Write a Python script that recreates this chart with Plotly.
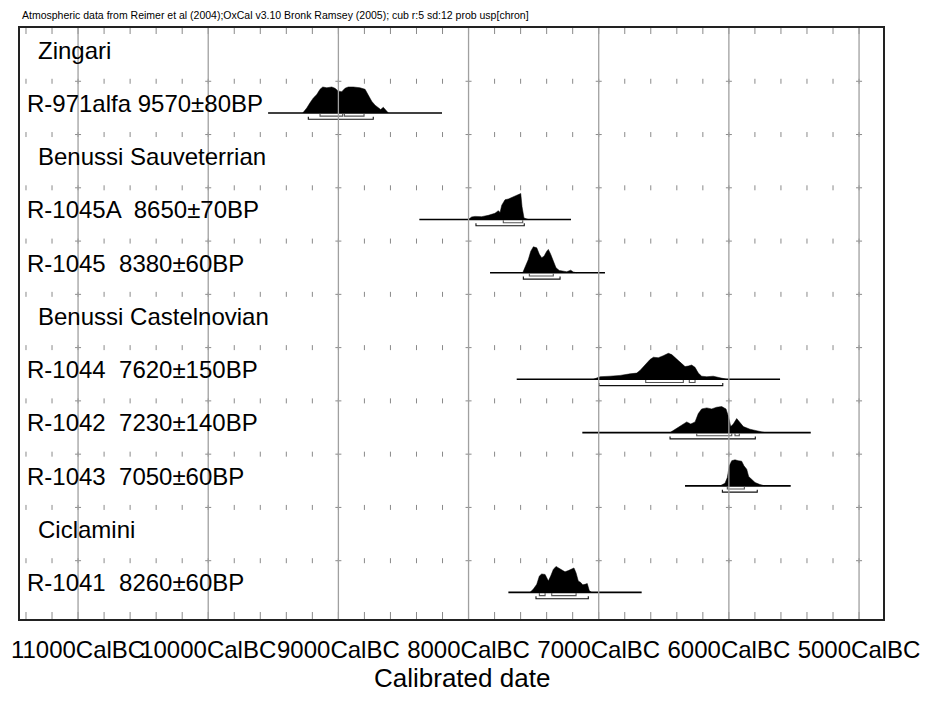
import plotly.graph_objects as go

# ---------------- data (years BC) ----------------
header = ("Atmospheric data from Reimer et al (2004);OxCal v3.10 Bronk Ramsey (2005); "
          "cub r:5 sd:12 prob usp[chron]")
axis_title = "Calibrated date"

major_ticks = [11000, 10000, 9000, 8000, 7000, 6000, 5000]
major_labels = ["11000CalBC", "10000CalBC", "9000CalBC", "8000CalBC",
                "7000CalBC", "6000CalBC", "5000CalBC"]
minor_ticks = [11400, 11200, 11000, 10800, 10600, 10400, 10200, 10000, 9800, 9600,
               9400, 9200, 9000, 8800, 8600, 8400, 8200, 8000, 7800, 7600, 7400,
               7200, 7000, 6800, 6600, 6400, 6200, 6000, 5800, 5600, 5400, 5200, 5000]

row_labels = ["Zingari", "R-971alfa 9570±80BP", "Benussi Sauveterrian",
              "R-1045A \u00a08650±70BP", "R-1045 \u00a08380±60BP", "Benussi Castelnovian",
              "R-1044 \u00a07620±150BP", "R-1042 \u00a07230±140BP", "R-1043 \u00a07050±60BP",
              "Ciclamini", "R-1041 \u00a08260±60BP"]
row_is_group = [True, False, True, False, False, True, False, False, False, True, False]

# R-971alfa (row 1)
r971_years = [9274, 9243, 9218, 9192, 9166, 9141, 9120, 9089, 9051, 9026, 9000, 8974,
              8949, 8924, 8885, 8834, 8795, 8770, 8744, 8718, 8693, 8675, 8655, 8634, 8616]
r971_prob = [0, 0.19, 0.39, 0.58, 0.71, 0.91, 1.0, 0.97, 1.0, 0.95, 0.84, 0.82,
             0.95, 1.0, 1.0, 0.97, 0.91, 0.71, 0.45, 0.30, 0.19, 0.13, 0.22, 0.09, 0]
r971_span = [9540, 8204]
r971_r68 = [[9141, 8967], [8954, 8803]]
r971_r95 = [[9231, 8732]]

# R-1045A (row 3)
r1045a_years = [8002, 7976, 7950, 7899, 7848, 7797, 7771, 7758, 7745, 7720, 7694, 7668,
                7643, 7618, 7599, 7589, 7574, 7541]
r1045a_prob = [0, 0.10, 0.12, 0.11, 0.16, 0.24, 0.34, 0.27, 0.55, 0.76, 0.79, 0.85,
               0.91, 0.95, 1.0, 0.49, 0.06, 0]
r1045a_span = [8378, 7213]
r1045a_r68 = [[7733, 7584]]
r1045a_r95 = [[7943, 7572]]

# R-1045 (row 4)
r1045_years = [7584, 7566, 7541, 7522, 7502, 7476, 7456, 7438, 7420, 7399, 7387, 7369,
               7349, 7328, 7303, 7272, 7246, 7215, 7195, 7169]
r1045_prob = [0, 0.19, 0.51, 0.83, 1.0, 0.96, 0.71, 0.58, 0.64, 0.83, 0.90, 0.71,
              0.45, 0.19, 0.09, 0.06, 0.04, 0.10, 0.03, 0]
r1045_span = [7835, 6952]
r1045_r68 = [[7533, 7349]]
r1045_r95 = [[7579, 7297]]

# R-1044 (row 6)
r1044_years = [7041, 6990, 6913, 6836, 6760, 6708, 6683, 6644, 6606, 6580, 6542, 6504,
               6465, 6439, 6401, 6362, 6337, 6312, 6286, 6260, 6235, 6209, 6170, 6120,
               6068, 6017]
r1044_prob = [0.0, 0.10, 0.12, 0.15, 0.21, 0.24, 0.34, 0.55, 0.76, 0.85, 0.83, 0.91,
              1.0, 0.95, 0.79, 0.61, 0.49, 0.51, 0.55, 0.46, 0.24, 0.12, 0.10, 0.12,
              0.05, 0]
r1044_span = [7630, 5607]
r1044_r68 = [[6639, 6350], [6304, 6260]]
r1044_r95 = [[6998, 6047]]

# R-1042 (row 7)
r1042_years = [6452, 6401, 6362, 6324, 6293, 6260, 6235, 6209, 6170, 6132, 6094, 6055,
               6022, 6001, 5986, 5966, 5940, 5920, 5889, 5838, 5786, 5723]
r1042_prob = [0.0, 0.16, 0.29, 0.41, 0.33, 0.41, 0.73, 0.91, 0.95, 0.91, 0.975, 1.0,
              0.91, 0.58, 0.23, 0.33, 0.54, 0.41, 0.23, 0.13, 0.08, 0]
r1042_span = [7126, 5371]
r1042_r68 = [[6247, 5978], [5953, 5920]]
r1042_r95 = [[6452, 5797]]

# R-1043 (row 8)
r1043_years = [6068, 6030, 6012, 5997, 5978, 5953, 5928, 5902, 5884, 5863, 5848, 5825,
               5799, 5761, 5723]
r1043_prob = [0, 0.10, 0.32, 0.77, 0.97, 1.0, 0.97, 0.95, 0.77, 0.64, 0.36, 0.26,
              0.13, 0.05, 0]
r1043_span = [6337, 5525]
r1043_r68 = [[6012, 5881]]
r1043_r95 = [[6050, 5782]]

# R-1041 (row 10)
r1041_years = [7528, 7502, 7476, 7456, 7438, 7412, 7399, 7387, 7369, 7349, 7328, 7310,
               7284, 7259, 7233, 7207, 7190, 7174, 7157, 7138, 7123, 7105, 7088, 7072,
               7054]
r1041_prob = [0, 0.13, 0.31, 0.63, 0.71, 0.69, 0.56, 0.44, 0.63, 0.88, 1.0, 0.94,
              0.84, 0.79, 0.84, 0.91, 0.94, 0.75, 0.44, 0.38, 0.29, 0.31, 0.34, 0.06, 0]
r1041_span = [7694, 6670]
r1041_r68 = [[7456, 7412], [7361, 7174]]
r1041_r95 = [[7482, 7080]]

samples = [
    (1, r971_years, r971_prob, r971_span, r971_r68, r971_r95),
    (3, r1045a_years, r1045a_prob, r1045a_span, r1045a_r68, r1045a_r95),
    (4, r1045_years, r1045_prob, r1045_span, r1045_r68, r1045_r95),
    (6, r1044_years, r1044_prob, r1044_span, r1044_r68, r1044_r95),
    (7, r1042_years, r1042_prob, r1042_span, r1042_r68, r1042_r95),
    (8, r1043_years, r1043_prob, r1043_span, r1043_r68, r1043_r95),
    (10, r1041_years, r1041_prob, r1041_span, r1041_r68, r1041_r95),
]

# ---------------- geometry / style ----------------
ROW_PX = 53.27
PLOT_H = 591
PX = 1.0 / ROW_PX
Y_MAX = PLOT_H / ROW_PX
X_LEFT, X_RIGHT = 11446, 4816
YR_PER_PX = (X_LEFT - X_RIGHT) / 863.0
BASE_OFF = 31.7 * PX
PEAK_H = 26 * PX
FONT = "Liberation Sans, Arial, sans-serif"


def bx(year):
    return -year


fig = go.Figure()

# distributions
for row, yrs, prob, span, r68, r95 in samples:
    base = row + BASE_OFF
    xs = [bx(yrs[0])] + [bx(v) for v in yrs] + [bx(yrs[-1])]
    ys = [base] + [base - p * PEAK_H for p in prob] + [base]
    fig.add_trace(go.Scatter(x=xs, y=ys, mode="lines", fill="toself",
                             fillcolor="black", line=dict(color="black", width=0.5),
                             hoverinfo="skip", showlegend=False))
    fig.add_trace(go.Scatter(x=[bx(span[0]), bx(span[1])], y=[base, base], mode="lines",
                             line=dict(color="black", width=1.6),
                             hoverinfo="skip", showlegend=False))
    for ranges, off, col in ((r68, 3.2, "#555555"), (r95, 6.3, "#111111")):
        bxs, bys = [], []
        yb = base + off * PX
        for a, b in ranges:
            bxs += [bx(a), bx(a), bx(b), bx(b), None]
            bys += [yb - 2.5 * PX, yb, yb, yb - 2.5 * PX, None]
        fig.add_trace(go.Scatter(x=bxs, y=bys, mode="lines",
                                 line=dict(color=col, width=1.1),
                                 hoverinfo="skip", showlegend=False))

# row tick marks
txs, tys = [], []
for k in range(len(row_labels)):
    for t in minor_ticks:
        if k == 0:
            y0, y1 = 0, 6 * PX
        else:
            y0, y1 = k - 2.5 * PX, k + 2.5 * PX
        txs += [bx(t), bx(t), None]
        tys += [y0, y1, None]
    if k > 0:
        for t in major_ticks:
            txs += [bx(t) - 3 * YR_PER_PX, bx(t) + 3 * YR_PER_PX, None]
            tys += [k, k, None]
for t in minor_ticks:
    txs += [bx(t), bx(t), None]
    tys += [Y_MAX - 7 * PX, Y_MAX, None]
fig.add_trace(go.Scatter(x=txs, y=tys, mode="lines", line=dict(color="#8a8a8a", width=1),
                         hoverinfo="skip", showlegend=False))

# major grid lines (drawn over the distributions, as in the original)
gxs, gys = [], []
for t in major_ticks:
    gxs += [bx(t), bx(t), None]
    gys += [0, Y_MAX, None]
fig.add_trace(go.Scatter(x=gxs, y=gys, mode="lines", line=dict(color="#a0a0a0", width=1.3),
                         hoverinfo="skip", showlegend=False))

# row labels
for k, (lab, grp) in enumerate(zip(row_labels, row_is_group)):
    fig.add_annotation(x=0, xref="paper", y=k + 0.413, yref="y", text=lab,
                       xanchor="left", yanchor="middle", showarrow=False,
                       xshift=16 if grp else 5,
                       font=dict(family=FONT, size=24, color="black"))

fig.add_annotation(x=0, xref="paper", y=1, yref="paper", yshift=13, text=header,
                   xanchor="left", yanchor="middle", showarrow=False,
                   font=dict(family=FONT, size=10.5, color="black"))
fig.add_annotation(x=0.512, xref="paper", y=0, yref="paper", yshift=-59, text=axis_title,
                   xanchor="center", yanchor="middle", showarrow=False,
                   font=dict(family=FONT, size=26, color="black"))

# the page has an 8 px body margin, so the figure origin sits at (8, 8)
fig.update_layout(
    width=928, height=708,
    margin=dict(l=12, r=53, t=20, b=97, autoexpand=False),
    paper_bgcolor="white", plot_bgcolor="white",
    showlegend=False,
    xaxis=dict(range=[bx(X_LEFT), bx(X_RIGHT)], tickvals=[bx(v) for v in major_ticks],
               ticktext=major_labels, showgrid=False, zeroline=False, automargin=False,
               showline=True, mirror=True, linecolor="#222222", linewidth=1.5,
               ticks="", ticklabelstandoff=8, tickangle=0,
               tickfont=dict(family=FONT, size=24, color="black")),
    yaxis=dict(range=[Y_MAX, 0], showgrid=False, zeroline=False, showticklabels=False,
               automargin=False,
               showline=True, mirror=True, linecolor="#222222", linewidth=1.5, ticks=""),
)

fig.write_html("out.html")
